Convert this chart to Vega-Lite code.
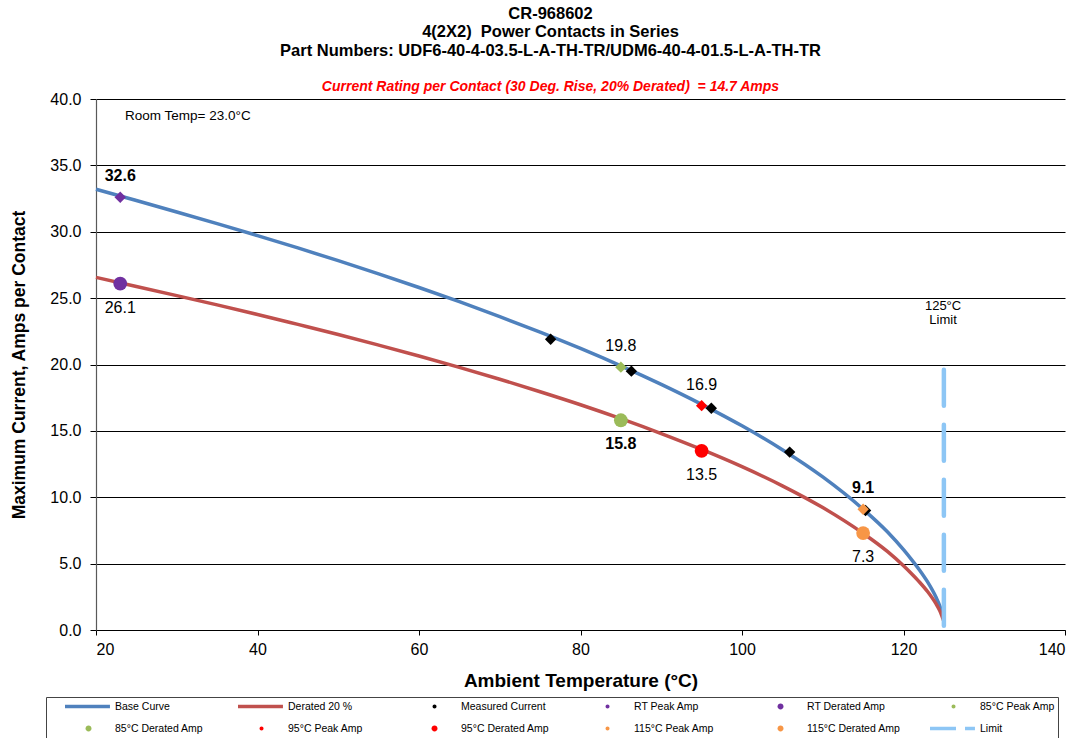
{
  "$schema": "https://vega.github.io/schema/vega-lite/v6.json",
  "width": 969,
  "height": 531,
  "autosize": {"type": "none"},
  "padding": {"left": 96, "top": 99, "right": 17, "bottom": 108},
  "background": "white",
  "config": {
    "view": {"stroke": null},
    "font": "Liberation Sans",
    "axis": {"labelFont": "Liberation Sans", "titleFont": "Liberation Sans", "labelColor": "#000", "titleColor": "#000"}
  },
  "title": {
    "text": ["CR-968602", "4(2X2)\u00a0 Power Contacts in Series", "Part Numbers: UDF6-40-4-03.5-L-A-TH-TR/UDM6-40-4-01.5-L-A-TH-TR"],
    "subtitle": "Current Rating per Contact (30 Deg. Rise, 20% Derated)\u00a0 = 14.7 Amps",
    "anchor": "middle",
    "frame": "group",
    "dx": -30,
    "offset": -3,
    "font": "Liberation Sans",
    "fontSize": 16.5,
    "fontWeight": "bold",
    "color": "#000",
    "lineHeight": 18.5,
    "subtitleFont": "Liberation Sans",
    "subtitleFontSize": 14,
    "subtitleFontStyle": "italic",
    "subtitleFontWeight": "bold",
    "subtitleColor": "#FF0000",
    "subtitlePadding": 21
  },
  "datasets": {
    "curves": [
      {"series": "Base Curve", "T": 20, "amps": 33.2},
      {"series": "Base Curve", "T": 25, "amps": 32.35},
      {"series": "Base Curve", "T": 30, "amps": 31.49},
      {"series": "Base Curve", "T": 35, "amps": 30.61},
      {"series": "Base Curve", "T": 40, "amps": 29.71},
      {"series": "Base Curve", "T": 45, "amps": 28.78},
      {"series": "Base Curve", "T": 50, "amps": 27.82},
      {"series": "Base Curve", "T": 55, "amps": 26.83},
      {"series": "Base Curve", "T": 60, "amps": 25.8},
      {"series": "Base Curve", "T": 65, "amps": 24.73},
      {"series": "Base Curve", "T": 70, "amps": 23.61},
      {"series": "Base Curve", "T": 75, "amps": 22.44},
      {"series": "Base Curve", "T": 80, "amps": 21.21},
      {"series": "Base Curve", "T": 85, "amps": 19.9},
      {"series": "Base Curve", "T": 90, "amps": 18.5},
      {"series": "Base Curve", "T": 95, "amps": 17.0},
      {"series": "Base Curve", "T": 100, "amps": 15.38},
      {"series": "Base Curve", "T": 105, "amps": 13.58},
      {"series": "Base Curve", "T": 110, "amps": 11.53},
      {"series": "Base Curve", "T": 115, "amps": 9.1},
      {"series": "Base Curve", "T": 118, "amps": 7.4},
      {"series": "Base Curve", "T": 120, "amps": 6.05},
      {"series": "Base Curve", "T": 121, "amps": 5.3},
      {"series": "Base Curve", "T": 122, "amps": 4.5},
      {"series": "Base Curve", "T": 123, "amps": 3.6},
      {"series": "Base Curve", "T": 124, "amps": 2.5},
      {"series": "Base Curve", "T": 124.5, "amps": 1.8},
      {"series": "Base Curve", "T": 125, "amps": 0.8},
      {"series": "Derated 20 %", "T": 20, "amps": 26.56},
      {"series": "Derated 20 %", "T": 25, "amps": 25.88},
      {"series": "Derated 20 %", "T": 30, "amps": 25.19},
      {"series": "Derated 20 %", "T": 35, "amps": 24.49},
      {"series": "Derated 20 %", "T": 40, "amps": 23.77},
      {"series": "Derated 20 %", "T": 45, "amps": 23.02},
      {"series": "Derated 20 %", "T": 50, "amps": 22.26},
      {"series": "Derated 20 %", "T": 55, "amps": 21.46},
      {"series": "Derated 20 %", "T": 60, "amps": 20.64},
      {"series": "Derated 20 %", "T": 65, "amps": 19.78},
      {"series": "Derated 20 %", "T": 70, "amps": 18.89},
      {"series": "Derated 20 %", "T": 75, "amps": 17.95},
      {"series": "Derated 20 %", "T": 80, "amps": 16.97},
      {"series": "Derated 20 %", "T": 85, "amps": 15.92},
      {"series": "Derated 20 %", "T": 90, "amps": 14.8},
      {"series": "Derated 20 %", "T": 95, "amps": 13.6},
      {"series": "Derated 20 %", "T": 100, "amps": 12.3},
      {"series": "Derated 20 %", "T": 105, "amps": 10.86},
      {"series": "Derated 20 %", "T": 110, "amps": 9.22},
      {"series": "Derated 20 %", "T": 115, "amps": 7.28},
      {"series": "Derated 20 %", "T": 118, "amps": 5.92},
      {"series": "Derated 20 %", "T": 120, "amps": 4.84},
      {"series": "Derated 20 %", "T": 121, "amps": 4.24},
      {"series": "Derated 20 %", "T": 122, "amps": 3.6},
      {"series": "Derated 20 %", "T": 123, "amps": 2.88},
      {"series": "Derated 20 %", "T": 124, "amps": 2.0},
      {"series": "Derated 20 %", "T": 124.5, "amps": 1.44},
      {"series": "Derated 20 %", "T": 125, "amps": 0.64}
    ],
    "limit": [
      {"series": "Limit", "T": 125, "top": 19.6, "bottom": 0}
    ],
    "points": [
      {"series": "Measured Current", "kind": "measured", "T": 76.3, "amps": 21.9, "label": ""},
      {"series": "Measured Current", "kind": "measured", "T": 86.3, "amps": 19.5, "label": ""},
      {"series": "Measured Current", "kind": "measured", "T": 96.2, "amps": 16.7, "label": ""},
      {"series": "Measured Current", "kind": "measured", "T": 105.9, "amps": 13.4, "label": ""},
      {"series": "Measured Current", "kind": "measured", "T": 115.3, "amps": 9.0, "label": ""},
      {"series": "RT Peak Amp", "kind": "peak", "T": 23, "amps": 32.6, "label": "32.6"},
      {"series": "RT Derated Amp", "kind": "derated", "T": 23, "amps": 26.1, "label": "26.1"},
      {"series": "85°C Peak Amp", "kind": "peak", "T": 85, "amps": 19.8, "label": "19.8"},
      {"series": "85°C Derated Amp", "kind": "derated", "T": 85, "amps": 15.8, "label": "15.8"},
      {"series": "95°C Peak Amp", "kind": "peak", "T": 95, "amps": 16.9, "label": "16.9"},
      {"series": "95°C Derated Amp", "kind": "derated", "T": 95, "amps": 13.5, "label": "13.5"},
      {"series": "115°C Peak Amp", "kind": "peak", "T": 115, "amps": 9.1, "label": "9.1"},
      {"series": "115°C Derated Amp", "kind": "derated", "T": 115, "amps": 7.3, "label": "7.3"}
    ],
    "notes": [
      {"name": "room", "T": 23.6, "amps": 38.7, "text": "Room Temp= 23.0°C"},
      {"name": "limit", "T": 124.9, "amps": 24.4, "text": "125°C\nLimit"}
    ]
  },
  "encoding": {
    "x": {
      "field": "T", "type": "quantitative",
      "scale": {"domain": [20, 140], "nice": false, "zero": false},
      "axis": {
        "title": "Ambient Temperature (°C)", "values": [20, 40, 60, 80, 100, 120, 140],
        "grid": false, "domainColor": "#000", "domainWidth": 1.2, "tickColor": "#000", "tickSize": 5,
        "labelFontSize": 16, "labelPadding": 6, "titleFontSize": 19, "titleFontWeight": "bold", "titlePadding": 14
      }
    },
    "y": {
      "field": "amps", "type": "quantitative",
      "scale": {"domain": [0, 40], "nice": false},
      "axis": {
        "title": "Maximum Current, Amps per Contact", "values": [0, 5, 10, 15, 20, 25, 30, 35, 40], "format": ".1f",
        "grid": true, "gridColor": "#000", "gridWidth": 1, "gridOpacity": 1,
        "domainColor": "#595959", "domainWidth": 1.2, "tickColor": "#000", "tickSize": 6,
        "labelFontSize": 16, "labelPadding": 9, "titleFontSize": 17.5, "titleFontWeight": "bold", "titlePadding": 21
      }
    }
  },
  "layer": [
    {
      "data": {"name": "curves"},
      "mark": {"type": "line", "strokeWidth": 3.5, "interpolate": "monotone"},
      "encoding": {
        "color": {
          "field": "series", "type": "nominal",
          "scale": {
            "domain": ["Base Curve", "Derated 20 %", "Measured Current", "RT Peak Amp", "RT Derated Amp", "85°C Peak Amp", "85°C Derated Amp", "95°C Peak Amp", "95°C Derated Amp", "115°C Peak Amp", "115°C Derated Amp", "Limit"],
            "range": ["#4F81BD", "#C0504D", "#000000", "#7030A0", "#7030A0", "#9BBB59", "#9BBB59", "#FF0000", "#FF0000", "#F79646", "#F79646", "#8DC6F5"]
          },
          "legend": {
            "title": null,
            "orient": "none",
            "direction": "horizontal",
            "legendX": -50,
            "legendY": 598,
            "columns": 6,
            "gridAlign": "all",
            "columnPadding": 13,
            "rowPadding": 9,
            "padding": 3,
            "clipHeight": 13,
            "strokeColor": "#444",
            "fillColor": "white",
            "labelFont": "Liberation Sans",
            "labelFontSize": 10.5,
            "labelColor": "#000",
            "labelOffset": 3,
            "symbolSize": 3540,
            "symbolStrokeWidth": 3.5,
            "encode": {
              "symbols": {
                "update": {
                  "shape": {"signal": "indexof(['Base Curve','Derated 20 %','Limit'], datum.value) >= 0 ? 'M-0.52,0L0.99,0' : (test(/Derated Amp/, datum.value) ? 'M0.37,0A0.1,0.1 0 1,1 0.17,0A0.1,0.1 0 1,1 0.37,0Z' : 'M0.337,0A0.067,0.067 0 1,1 0.203,0A0.067,0.067 0 1,1 0.337,0Z')"},
                  "strokeDash": {"signal": "datum.value === 'Limit' ? [26, 9] : [1, 0]"},
                  "fill": {"scale": "color", "field": "value"},
                  "stroke": {"scale": "color", "field": "value"},
                  "strokeOpacity": {"signal": "indexof(['Base Curve','Derated 20 %','Limit'], datum.value) >= 0 ? 1 : 0"},
                  "opacity": {"value": 1},
                  "fillOpacity": {"value": 1}
                }
              }
            }
          }
        }
      }
    },
    {
      "data": {"name": "limit"},
      "mark": {"type": "rule", "strokeWidth": 4.5, "strokeDash": [36, 19], "strokeCap": "round"},
      "encoding": {
        "y": {"field": "top", "type": "quantitative"},
        "y2": {"field": "bottom"},
        "color": {"field": "series", "type": "nominal"}
      }
    },
    {
      "data": {"name": "points"},
      "transform": [{"filter": "datum.kind !== 'derated'"}],
      "mark": {"type": "point", "shape": "diamond", "filled": true, "size": 130, "opacity": 1},
      "encoding": {"color": {"field": "series", "type": "nominal"}}
    },
    {
      "data": {"name": "points"},
      "transform": [{"filter": "datum.kind === 'derated'"}],
      "mark": {"type": "point", "shape": "circle", "filled": true, "size": 190, "opacity": 1},
      "encoding": {"color": {"field": "series", "type": "nominal"}}
    },
    {
      "data": {"name": "points"},
      "transform": [{"filter": "datum.kind === 'peak' && indexof(['32.6','9.1'], datum.label) < 0"}],
      "mark": {"type": "text", "dy": -21, "fontSize": 16, "font": "Liberation Sans", "color": "#000"},
      "encoding": {"text": {"field": "label"}}
    },
    {
      "data": {"name": "points"},
      "transform": [{"filter": "datum.kind === 'peak' && indexof(['32.6','9.1'], datum.label) >= 0"}],
      "mark": {"type": "text", "dy": -21, "fontSize": 16, "font": "Liberation Sans", "fontWeight": "bold", "color": "#000"},
      "encoding": {"text": {"field": "label"}}
    },
    {
      "data": {"name": "points"},
      "transform": [{"filter": "datum.kind === 'derated' && datum.label !== '15.8'"}],
      "mark": {"type": "text", "dy": 24, "fontSize": 16, "font": "Liberation Sans", "color": "#000"},
      "encoding": {"text": {"field": "label"}}
    },
    {
      "data": {"name": "points"},
      "transform": [{"filter": "datum.kind === 'derated' && datum.label === '15.8'"}],
      "mark": {"type": "text", "dy": 24, "fontSize": 16, "font": "Liberation Sans", "fontWeight": "bold", "color": "#000"},
      "encoding": {"text": {"field": "label"}}
    },
    {
      "data": {"name": "notes"},
      "transform": [{"filter": "datum.name === 'room'"}],
      "mark": {"type": "text", "align": "left", "baseline": "middle", "fontSize": 13.5, "font": "Liberation Sans", "color": "#000"},
      "encoding": {"text": {"field": "text"}}
    },
    {
      "data": {"name": "notes"},
      "transform": [{"filter": "datum.name === 'limit'"}],
      "mark": {"type": "text", "align": "center", "baseline": "middle", "fontSize": 13, "lineHeight": 14, "lineBreak": "\n", "font": "Liberation Sans", "color": "#000"},
      "encoding": {"text": {"field": "text"}}
    }
  ]
}
